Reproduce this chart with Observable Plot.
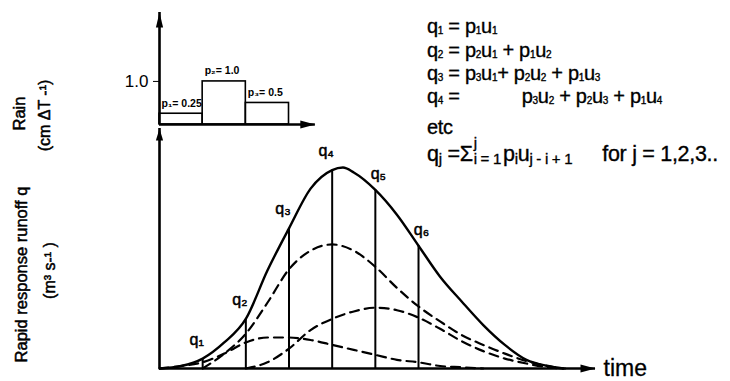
<!DOCTYPE html>
<html>
<head>
<meta charset="utf-8">
<script src="https://cdn.jsdelivr.net/npm/d3@7"></script>
<script src="https://cdn.jsdelivr.net/npm/@observablehq/plot@0.6"></script>
<style>
  body { margin: 0; background: #fff; }
  #fig { position: relative; width: 730px; height: 381px; font-family: "Liberation Sans", Arial, Helvetica, sans-serif; color: #000; }
  #fig svg { display: block; overflow: visible; background: transparent; }
  .eq { position: absolute; left: 427px; font-size: 20px; line-height: 20px; white-space: nowrap; letter-spacing: -0.3px; -webkit-text-stroke: 0.35px #000; }
  .eq sub { font-size: 0.5em; vertical-align: -0.12em; line-height: 0; }
  .eq.last { font-size: 21.5px; }
  .eq.last sub { font-size: 0.7em; vertical-align: -0.2em; }
  .eq .gap { display: inline-block; }
  .eq .lims { display: inline-block; position: relative; margin-left: 1px; }
  .eq .lims .hi { position: absolute; left: 0; top: -0.6em; font-size: 0.7em; line-height: 1; }
</style>
</head>
<body>
<div id="fig"></div>
<script>
// Rainfall pulses p_i, one per time step ΔT
const rainStart = [0, 1, 2];
const rainEnd = [1, 2, 3];
const rainDepth = [0.25, 1.0, 0.5];
const subDigits = ["₀", "₁", "₂", "₃", "₄", "₅", "₆", "₇", "₈", "₉"];

// Total rapid response runoff q (solid curve), time in steps of ΔT
const runoffT = [0, 0.5, 1, 1.5, 2, 2.5, 3, 3.5, 4, 4.25, 4.5, 5, 5.5, 6, 6.5, 7, 7.5, 8, 8.5, 9, 9.35];
const runoffQ = [0, 0.02, 0.08, 0.21, 0.40, 0.79, 1.13, 1.45, 1.60, 1.62, 1.58, 1.44, 1.24, 0.99, 0.74, 0.54, 0.35, 0.19, 0.07, 0.02, 0];

// Response to p1 (starts at t = 0)
const resp1T = [0, 0.5, 1, 1.5, 2, 2.5, 3, 3.5, 4, 4.5, 5, 5.5, 6, 6.5, 7, 7.5];
const resp1Q = [0, 0.02, 0.05, 0.12, 0.21, 0.25, 0.25, 0.23, 0.19, 0.15, 0.11, 0.07, 0.05, 0.02, 0.01, 0];

// Response to p2 (starts at t = 1)
const resp2T = [1, 1.5, 2, 2.5, 3, 3.5, 4, 4.5, 5, 5.5, 6, 6.5, 7, 7.5, 8, 8.5, 9, 9.3];
const resp2Q = [0, 0.12, 0.28, 0.53, 0.80, 0.95, 1.0, 0.95, 0.82, 0.65, 0.50, 0.38, 0.27, 0.19, 0.12, 0.06, 0.02, 0];

// Response to p3 (starts at t = 2)
const resp3T = [2, 2.5, 3, 3.5, 4, 4.5, 5, 5.5, 6, 6.5, 7, 7.5, 8, 8.5, 9, 9.4];
const resp3Q = [0, 0.05, 0.16, 0.31, 0.40, 0.46, 0.49, 0.47, 0.41, 0.32, 0.22, 0.14, 0.08, 0.04, 0.01, 0];

// Ordinates q_j marked at the end of each step
const ordinateSteps = [1, 2, 3, 4, 5, 6];

// Convolution equations shown beside the chart
const equations = [
  'q<sub>1</sub> = p<sub>1</sub>u<sub>1</sub>',
  'q<sub>2</sub> = p<sub>2</sub>u<sub>1</sub> + p<sub>1</sub>u<sub>2</sub>',
  'q<sub>3</sub> = p<sub>3</sub>u<sub>1</sub>+ p<sub>2</sub>u<sub>2</sub> + p<sub>1</sub>u<sub>3</sub>',
  'q<sub>4</sub> =<span class="gap" style="width:62px"></span>p<sub>3</sub>u<sub>2</sub> + p<sub>2</sub>u<sub>3</sub> + p<sub>1</sub>u<sub>4</sub>',
  'etc',
  'q<sub>j</sub> =Σ<span class="lims"><span class="hi">j</span><sub>i = 1</sub></span><span class="gap" style="width:2px"></span>p<sub>i</sub>u<sub>j - i + 1</sub><span class="gap" style="width:30px"></span>for j = 1,2,3..'
];
const equationBaselines = [33, 57, 80, 103, 134, 162];

const fontFamily = '"Liberation Sans", Arial, Helvetica, sans-serif';
const xMax = 10.1;        // time axis extent (steps)
const rainAxisEnd = 3.61; // rain axis extent (steps)
const rainTop = 2.6;      // rain axis top (cm per ΔT)
const runoffTop = 1.935;  // runoff axis top

const fmtDepth = (v) => (Number.isInteger(v) ? v.toFixed(1) : String(v));
const bars = rainDepth.map((p, i) => ({
  x1: rainStart[i], x2: rainEnd[i], p,
  label: `p${subDigits[i + 1]}= ${fmtDepth(p)}`
}));

const zip = (T, Q) => T.map((t, i) => ({t, q: Q[i]}));
const runoff = zip(runoffT, runoffQ);
const resp1 = zip(resp1T, resp1Q);
const resp2 = zip(resp2T, resp2Q);
const resp3 = zip(resp3T, resp3Q);
const ordinates = ordinateSteps.map((s) => {
  const d = runoff.find((r) => r.t === s);
  return {t: s, q: d.q, label: `q${subDigits[s]}`};
});

// Filled arrowheads: tip at the anchor point
const upHead = (len, half) => ({draw(ctx) { ctx.moveTo(0, 0); ctx.lineTo(-half, len); ctx.lineTo(half, len); ctx.closePath(); }});
const rightHead = (len, half) => ({draw(ctx) { ctx.moveTo(0, 0); ctx.lineTo(-len, -half); ctx.lineTo(-len, half); ctx.closePath(); }});

const axisStroke = 2.6;
// a thin outline of the same ink gives the labels a heavier, printed weight
const ink = {fill: "black", stroke: "black", strokeWidth: 0.5};
const sideTitle = {frameAnchor: "left", rotate: -90, textAnchor: "middle", lineAnchor: "middle", ...ink};

const rainPlot = Plot.plot({
  width: 730,
  height: 126,
  marginLeft: 159,
  marginRight: 135,
  marginTop: 12,
  marginBottom: 2,
  style: {fontFamily, fontSize: "17px", background: "transparent", overflow: "visible", color: "black"},
  x: {domain: [0, xMax], axis: null},
  y: {domain: [0, rainTop], ticks: [1], tickFormat: (d) => d.toFixed(1), tickSize: 6, tickPadding: 5, label: null},
  marks: [
    Plot.rect(bars, {x1: "x1", x2: "x2", y1: 0, y2: "p", fill: "none", stroke: "black", strokeWidth: 1.6}),
    Plot.text(bars, {x: "x1", y: "p", text: "label", textAnchor: "start", lineAnchor: "bottom", dx: 2, dy: -7, fontSize: 10.5, fontWeight: "bold"}),
    Plot.ruleX([0], {y1: 0, y2: rainTop, strokeWidth: axisStroke}),
    Plot.ruleY([0], {x1: 0, x2: rainAxisEnd, strokeWidth: axisStroke}),
    Plot.dot([{t: 0, v: rainTop}], {x: "t", y: "v", symbol: upHead(15, 3.6), fill: "black", stroke: "none"}),
    Plot.dot([{t: rainAxisEnd, v: 0}], {x: "t", y: "v", symbol: rightHead(15, 4), fill: "black", stroke: "none"}),
    // frame middle is at y = 68; titles sit lower, beside the rain baseline
    Plot.text(["Rain"], {text: (d) => d, ...sideTitle, dx: -140, dy: 45, fontSize: 16.5}),
    Plot.text(["(cm ΔT -¹)"], {text: (d) => d, ...sideTitle, dx: -115, dy: 47, fontSize: 16})
  ]
});

const rising = ordinates.filter((d) => d.t <= 4);
const falling = ordinates.filter((d) => d.t > 4);

const runoffPlot = Plot.plot({
  width: 730,
  height: 255,
  marginLeft: 159,
  marginRight: 135,
  marginTop: 2,
  marginBottom: 13,
  style: {fontFamily, fontSize: "16px", background: "transparent", overflow: "visible", color: "black"},
  x: {domain: [0, xMax], axis: null},
  y: {domain: [0, runoffTop], axis: null},
  marks: [
    Plot.line(resp1, {x: "t", y: "q", stroke: "black", strokeWidth: 2.2, strokeDasharray: "9,6", curve: "monotone-x"}),
    Plot.line(resp2, {x: "t", y: "q", stroke: "black", strokeWidth: 2.2, strokeDasharray: "9,6", curve: "monotone-x"}),
    Plot.line(resp3, {x: "t", y: "q", stroke: "black", strokeWidth: 2.2, strokeDasharray: "9,6", curve: "monotone-x"}),
    Plot.ruleX(ordinates, {x: "t", y1: 0, y2: "q", strokeWidth: 2}),
    Plot.line(runoff, {x: "t", y: "q", stroke: "black", strokeWidth: 2.4, curve: "monotone-x"}),
    Plot.text(rising, {x: "t", y: "q", text: "label", dx: -6, dy: -19, fontSize: 16, ...ink}),
    Plot.text(falling, {x: "t", y: "q", text: "label", dx: 3, dy: -16, fontSize: 16, ...ink}),
    Plot.ruleX([0], {y1: 0, y2: runoffTop, strokeWidth: axisStroke}),
    Plot.ruleY([0], {x1: 0, x2: xMax, strokeWidth: axisStroke}),
    Plot.dot([{t: 0, v: runoffTop}], {x: "t", y: "v", symbol: upHead(12, 3.6), fill: "black", stroke: "none"}),
    Plot.dot([{t: xMax, v: 0}], {x: "t", y: "v", symbol: rightHead(15, 4), fill: "black", stroke: "none"}),
    Plot.text(["time"], {text: (d) => d, x: () => xMax, y: () => 0, dx: 8, textAnchor: "start", fontSize: 23, fill: "black", stroke: "black", strokeWidth: 0.3}),
    Plot.text(["Rapid response runoff q"], {text: (d) => d, ...sideTitle, dx: -138, dy: 26, fontSize: 16.5}),
    Plot.text(["(m³ s-¹ )"], {text: (d) => d, ...sideTitle, dx: -110, dy: 22, fontSize: 16})
  ]
});

const fig = document.getElementById("fig");
fig.append(rainPlot, runoffPlot);

equations.forEach((html, i) => {
  const line = document.createElement("div");
  line.className = i === equations.length - 1 ? "eq last" : "eq";
  line.style.top = `${equationBaselines[i] - (i === equations.length - 1 ? 18 : 17)}px`;
  line.innerHTML = html;
  fig.append(line);
});
</script>
</body>
</html>
